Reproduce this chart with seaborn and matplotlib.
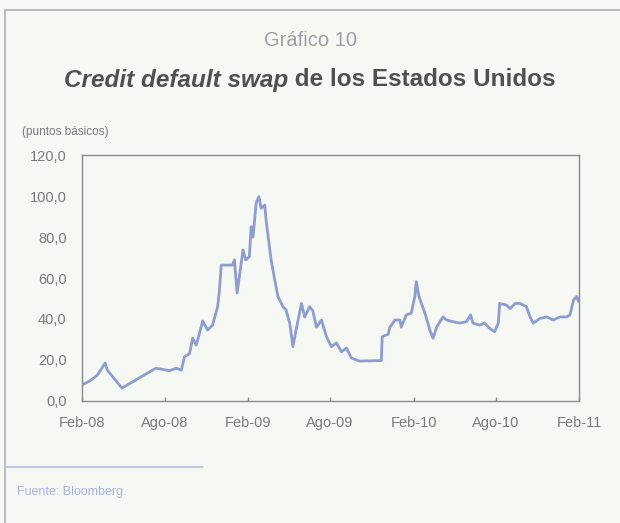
import matplotlib
matplotlib.use("Agg")
import matplotlib.pyplot as plt
from matplotlib.lines import Line2D
import pandas as pd
import seaborn as sns

# CDS spread for the United States, basis points
fechas = [
    "2008-02-01", "2008-02-21", "2008-03-06", "2008-03-23", "2008-03-28", "2008-04-29",
    "2008-07-13", "2008-08-12", "2008-08-27", "2008-09-07", "2008-09-14", "2008-09-25",
    "2008-10-02", "2008-10-10", "2008-10-17", "2008-10-24", "2008-11-04", "2008-11-15",
    "2008-11-26", "2008-11-30", "2008-12-04", "2008-12-29", "2009-01-02", "2009-01-08",
    "2009-01-21", "2009-01-27", "2009-02-04", "2009-02-08", "2009-02-12", "2009-02-19",
    "2009-02-25", "2009-03-02", "2009-03-10", "2009-03-13", "2009-03-24", "2009-04-01",
    "2009-04-08", "2009-04-19", "2009-04-26", "2009-05-04", "2009-05-11", "2009-05-18",
    "2009-05-30", "2009-06-06", "2009-06-17", "2009-06-24", "2009-07-02", "2009-07-13",
    "2009-07-24", "2009-08-04", "2009-08-15", "2009-08-26", "2009-09-06", "2009-09-17",
    "2009-09-28", "2009-10-05", "2009-11-22", "2009-11-24", "2009-12-07", "2009-12-11",
    "2009-12-22", "2010-01-02", "2010-01-05", "2010-01-16", "2010-01-27", "2010-02-04",
    "2010-02-07", "2010-02-13", "2010-02-21", "2010-02-26", "2010-03-09", "2010-03-16",
    "2010-03-24", "2010-04-07", "2010-04-15", "2010-04-29", "2010-05-14", "2010-05-29",
    "2010-06-07", "2010-06-12", "2010-06-27", "2010-07-08", "2010-07-19", "2010-07-30",
    "2010-08-07", "2010-08-10", "2010-08-25", "2010-09-02", "2010-09-13", "2010-09-24",
    "2010-10-08", "2010-10-16", "2010-10-23", "2010-11-07", "2010-11-22", "2010-12-06",
    "2010-12-21", "2011-01-05", "2011-01-12", "2011-01-20", "2011-01-27", "2011-01-31",
]
cds = [
    7.8, 10.2, 12.7, 18.5, 15.0, 6.3,
    16.0, 14.8, 16.0, 15.0, 21.6, 23.0,
    30.7, 27.3, 33.0, 39.0, 34.6, 37.0,
    46.0, 54.0, 66.3, 66.3, 68.8, 52.7,
    73.7, 68.8, 70.4, 85.0, 80.0, 96.6,
    99.7, 94.0, 95.6, 88.0, 68.8, 59.0,
    51.0, 46.0, 44.4, 38.0, 26.5, 34.6,
    47.6, 41.0, 46.0, 44.0, 36.0, 39.5,
    31.4, 26.5, 28.3, 24.0, 25.8, 21.0,
    20.0, 19.5, 19.7, 31.4, 32.5, 36.0,
    39.5, 39.5, 36.0, 42.0, 42.8, 51.0,
    58.2, 51.0, 46.0, 43.0, 34.6, 30.6,
    36.0, 41.0, 39.5, 38.7, 38.0, 38.7,
    42.0, 38.0, 37.0, 38.0, 35.4, 33.8,
    38.0, 47.6, 46.8, 45.0, 47.6, 47.6,
    46.0, 41.0, 38.0, 40.3, 41.0, 39.5,
    41.0, 41.0, 42.0, 49.3, 51.0, 48.5,
]

tick_fechas = ["2008-02-01", "2008-08-01", "2009-02-01", "2009-08-01",
               "2010-02-01", "2010-08-01", "2011-02-01"]
tick_etiquetas = ["Feb-08", "Ago-08", "Feb-09", "Ago-09", "Feb-10", "Ago-10", "Feb-11"]
y_ticks = [0, 20, 40, 60, 80, 100, 120]

df = pd.DataFrame({"fecha": pd.to_datetime(fechas), "cds": cds})

sns.set_theme(style="white")
plt.rcParams["font.family"] = ["Liberation Sans", "DejaVu Sans"]

bg = "#f6f8f4"
fig = plt.figure(figsize=(6.2, 5.23), dpi=100, facecolor=bg)
ax = fig.add_axes([0.1323, 0.2333, 0.8016, 0.4703], facecolor=bg)

sns.lineplot(data=df, x="fecha", y="cds", ax=ax, color="#8f9cd0", linewidth=2.0)

ax.set_xlim(pd.Timestamp(tick_fechas[0]), pd.Timestamp(tick_fechas[-1]))
ax.set_ylim(0, 120)
ax.set_xticks(pd.to_datetime(tick_fechas))
ax.set_xticklabels(tick_etiquetas)
ax.set_yticks(y_ticks)
ax.set_yticklabels([f"{v:.1f}".replace(".", ",") for v in y_ticks])
ax.set_xlabel("")
ax.set_ylabel("")

for lab in ax.get_xticklabels() + ax.get_yticklabels():
    lab.set_fontsize(10.5)
    lab.set_color("#7a7a7a")

ax.tick_params(axis="x", direction="in", length=3, width=1, color="#888888", pad=11, bottom=True)
ax.tick_params(axis="y", length=0, pad=11)
for s in ax.spines.values():
    s.set_color("#8a8a8a")
    s.set_linewidth(1.0)

# Titles
fig.text(0.5, 1 - 40 / 523, "Gráfico 10", ha="center", va="center", fontsize=14.5,
         color="#9c9fa8")
t1 = fig.text(0.0, 1 - 80 / 523, "Credit default swap", ha="left", va="center", fontsize=17.5,
              fontweight="bold", style="italic", color="#505050")
t2 = fig.text(0.0, 1 - 80 / 523, " de los Estados Unidos", ha="left", va="center", fontsize=17.5,
              fontweight="bold", color="#505050")
fig.canvas.draw()
r = fig.canvas.get_renderer()
w1 = t1.get_window_extent(r).width / fig.bbox.width
w2 = t2.get_window_extent(r).width / fig.bbox.width
x0 = 0.5 - (w1 + w2) / 2
t1.set_x(x0)
t2.set_x(x0 + w1)

fig.text(0.036, 1 - 132 / 523, "(puntos básicos)", ha="left", va="center", fontsize=8.5,
         color="#7a7a7a")

# Panel frame and footer
frame_c = "#b0b0b0"
fig.add_artist(Line2D([5 / 620, 5 / 620], [0, 1 - 10 / 523], transform=fig.transFigure,
                      color=frame_c, linewidth=1.2))
fig.add_artist(Line2D([5 / 620, 1], [1 - 10 / 523, 1 - 10 / 523], transform=fig.transFigure,
                      color=frame_c, linewidth=1.2))
fig.add_artist(Line2D([5 / 620, 203 / 620], [1 - 467 / 523, 1 - 467 / 523],
                      transform=fig.transFigure, color="#b7bfdc", linewidth=1.2))
fig.text(17 / 620, 1 - 492 / 523, "Fuente: Bloomberg.", ha="left", va="center",
         fontsize=9, color="#aab3d8")

fig.savefig("out.png", dpi=100, facecolor=bg)
